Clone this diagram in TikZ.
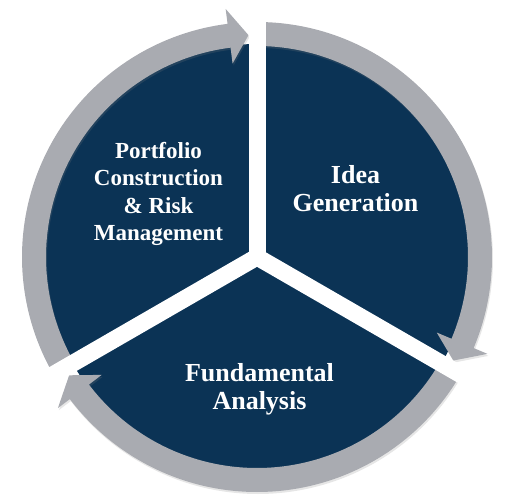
\documentclass[tikz,border=0pt]{standalone}
\usepackage{fontspec}
\setmainfont{Liberation Serif}
\usetikzlibrary{positioning}
\usetikzlibrary{shadows}

\definecolor{navy}{RGB}{11,51,85}
\definecolor{ringgray}{RGB}{169,171,177}

\tikzset{
  sector/.style={fill=navy},
  ringarrow/.style={fill=ringgray, drop shadow={opacity=0.2,shadow xshift=1pt,shadow yshift=-2pt}},
  gapline/.style={draw=white, line width=17pt},
  phase/.style={text=white, font=\fontsize{26}{28}\selectfont\bfseries, align=center},
  longphase/.style={phase, font=\fontsize{23}{27.5}\selectfont\bfseries}
}

% #1 start angle (at a gap), #2 angle of the tip
\newcommand{\cyclearrow}[2]{%
  \pgfmathsetmacro{\headback}{#2+5}
  \fill[ringarrow] (#1:235pt) arc[start angle=#1, end angle=\headback, radius=235pt]
    -- (\headback:250pt) -- (#2:222pt) -- (\headback:195pt) -- (\headback:211pt)
    arc[start angle=\headback, end angle=#1, radius=211pt] -- cycle;
}

\begin{document}
\begin{tikzpicture}
\useasboundingbox (0,0) rectangle (505pt,500pt);
\coordinate (c) at (257pt,243pt);

\fill[sector] (c) circle[radius=213pt];

\begin{scope}[shift={(c)}]
  \cyclearrow{210}{92.2}
  \cyclearrow{90}{-27.8}
  \cyclearrow{-30}{-147.8}
  % white gaps between the three parts
  \draw[gapline] (0,0) -- (90:262pt);
  \draw[gapline] (0,0) -- (210:262pt);
  \draw[gapline] (0,0) -- (330:262pt);
\end{scope}

\node[longphase] (portfolio) at ([shift={(-98.5pt,63pt)}]c) {Portfolio\\Construction\\\& Risk\\Management};
\node[phase] (idea) at ([shift={(98.5pt,68pt)}]c) {Idea\\Generation};
\node[phase] (fundamental) at ([shift={(2.5pt,-132pt)}]c) {Fundamental\\Analysis};
\end{tikzpicture}
\end{document}
